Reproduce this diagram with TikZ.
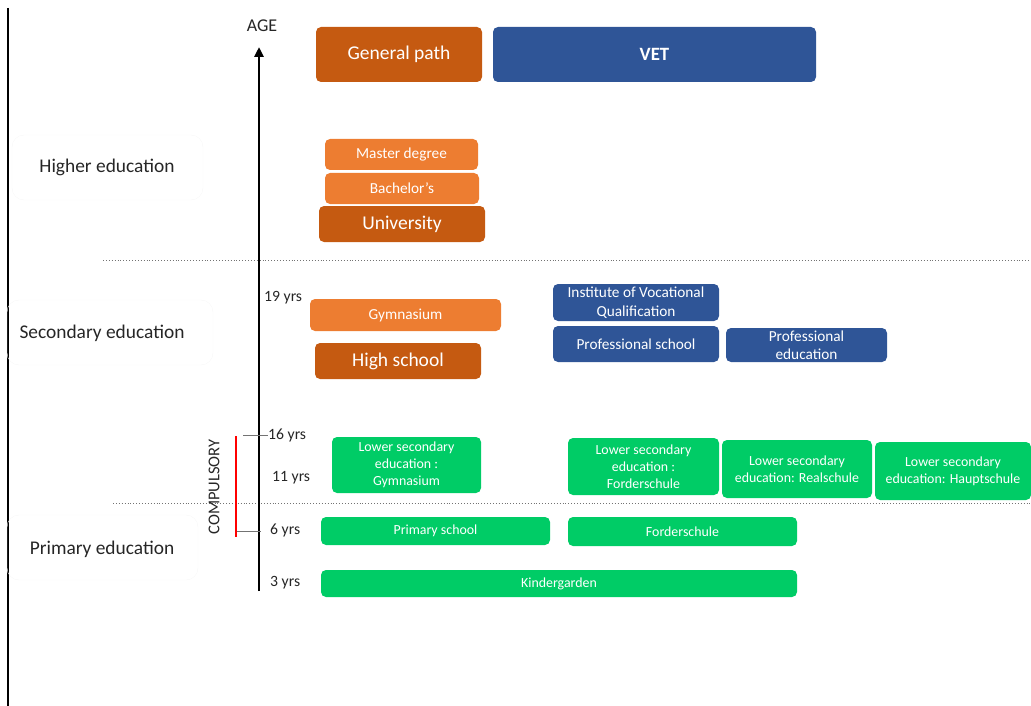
\documentclass[tikz,border=0pt]{standalone}
\usepackage{fontspec}
\setmainfont{Carlito}
\usetikzlibrary{arrows.meta}
\definecolor{dorange}{HTML}{C55A11}
\definecolor{lorange}{HTML}{ED7D31}
\definecolor{vblue}{HTML}{2F5597}
\definecolor{sgreen}{HTML}{00CC66}
\tikzset{
  box/.style={rounded corners=5pt, text=white, align=center, inner sep=1pt, font=\fontsize{15.3}{18.5}\selectfont},
  big/.style={box, font=\fontsize{19.5}{22}\selectfont},
  gbox/.style={box, fill=sgreen, font=\fontsize{13.9}{17}\selectfont},
  lab/.style={font=\fontsize{19.4}{22}\selectfont, text=black!85},
  lbox/.style={draw=black!3, rounded corners=12pt},
  age/.style={font=\fontsize{15.7}{18}\selectfont, text=black!85, inner sep=0pt},
  sep/.style={draw=black!55, dotted, line width=0.9pt}
}
\begin{document}
\begin{tikzpicture}[x=1pt,y=-1pt]
\useasboundingbox (0,0) rectangle (1031,706);
% left frame line
\coordinate (lt) at (8,8); \coordinate (lb) at (8,706);
\draw[line width=1.4pt] (lt) -- (lb);
% category label boxes
\draw[lbox] (12,135) rectangle (203,200);
\draw[lbox] (7,300) rectangle (213,365);
\draw[lbox] (7,515) rectangle (198,580);
\node[lab] (he) at (107,167) {Higher education};
\node[lab] (se) at (102,333) {Secondary education};
\node[lab] (pe) at (102,549) {Primary education};
% separators
\coordinate (s1a) at (103,260); \coordinate (s1b) at (1031,260);
\coordinate (s2a) at (113,503); \coordinate (s2b) at (1031,503);
\draw[sep] (s1a) -- (s1b);
\draw[sep] (s2a) -- (s2b);
% age axis
\coordinate (abot) at (259,591); \coordinate (atop) at (259,47);
\draw[line width=2.8pt, -{Triangle[length=10pt,width=9pt]}] (abot) -- (atop);
\node[age, font=\fontsize{18}{20}\selectfont] (agelab) at (262,26) {AGE};
\node[age, anchor=west] (a19) at (264,298) {19 yrs};
\node[age, anchor=west] (a16) at (268,435) {16 yrs};
\node[age, anchor=west] (a11) at (272,478) {11 yrs};
\node[age, anchor=west] (a6) at (270,530) {6 yrs};
\node[age, anchor=west] (a3) at (270,583) {3 yrs};
\coordinate (t16) at (243,435); \coordinate (t6) at (237,531); \coordinate (t6b) at (261,531);
\draw[black!55, line width=0.8pt] (t16) -- (a16.west);
\draw[black!55, line width=0.8pt] (t6) -- (t6b);
\coordinate (r1) at (236,436); \coordinate (r2) at (236,537);
\draw[red, line width=2.4pt] (r1) -- (r2);
\node[age, rotate=90, font=\fontsize{16.5}{18}\selectfont] (comp) at (214,487) {COMPULSORY};
% general path
\node[big, fill=dorange, minimum width=166pt, minimum height=55pt] (gen) at (399,54.5) {General path};
\node[big, fill=vblue, minimum width=323pt, minimum height=55pt, font=\fontsize{18.8}{22}\selectfont\bfseries] (vet) at (654.5,54.5) {VET};
\node[box, fill=lorange, minimum width=153pt, minimum height=31pt] (master) at (401.5,154.5) {Master degree};
\node[box, fill=lorange, minimum width=154pt, minimum height=31pt] (bach) at (402,188.5) {Bachelor’s};
\node[big, fill=dorange, minimum width=166pt, minimum height=36pt] (univ) at (402,224) {University};
\node[box, fill=lorange, minimum width=191pt, minimum height=32pt] (gym) at (405.5,315) {Gymnasium};
\node[big, fill=dorange, minimum width=166pt, minimum height=36pt] (hs) at (398,361) {High school};
% VET boxes
\node[box, fill=vblue, minimum width=166pt, minimum height=37pt] (ivq) at (636,302.5) {Institute of Vocational\\Qualification};
\node[box, fill=vblue, minimum width=166pt, minimum height=36pt] (ps) at (636,344) {Professional school};
\node[box, fill=vblue, minimum width=161pt, minimum height=34pt] (pedu) at (806.5,345) {Professional\\education};
% lower secondary
\node[gbox, minimum width=149pt, minimum height=56pt] (lsg) at (406.5,465) {Lower secondary\\education :\\Gymnasium};
\node[gbox, minimum width=151pt, minimum height=57pt] (lsf) at (643.5,466.5) {Lower secondary\\education :\\Forderschule};
\node[gbox, minimum width=150pt, minimum height=58pt] (lsr) at (797,469) {Lower secondary\\education: Realschule};
\node[gbox, minimum width=156pt, minimum height=58pt] (lsh) at (953,471) {Lower secondary\\education: Hauptschule};
% primary
\node[gbox, minimum width=229pt, minimum height=28pt] (prim) at (435.5,531) {Primary school};
\node[gbox, minimum width=229pt, minimum height=29pt] (ford) at (682.5,531.5) {Forderschule};
\node[gbox, minimum width=476pt, minimum height=27pt] (kg) at (559,583.5) {Kindergarden};
\end{tikzpicture}
\end{document}
